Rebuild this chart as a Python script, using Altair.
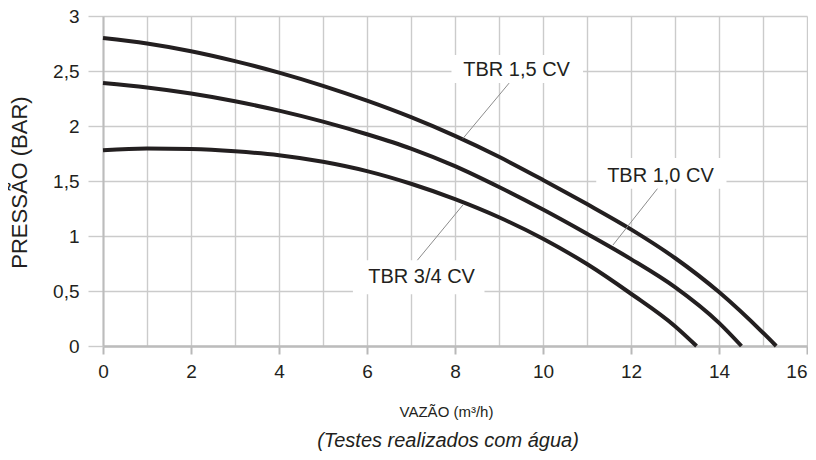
import altair as alt
import pandas as pd

FONT = "Liberation Sans"
INK = "#231f20"

# ---- curve data (vazão m³/h, pressão bar) ----
series_names = ["TBR 1,5 CV", "TBR 1,0 CV", "TBR 3/4 CV"]
x_15 = [0, 1, 2, 3, 4, 5, 6, 7, 8, 9, 10, 11, 12, 13, 14, 15, 15.3]
y_15 = [2.80, 2.75, 2.68, 2.59, 2.485, 2.365, 2.23, 2.08, 1.91, 1.72, 1.51, 1.29, 1.06, 0.80, 0.49, 0.12, 0.0]
x_10 = [0, 1, 2, 3, 4, 5, 6, 7, 8, 9, 10, 11, 12, 13, 14, 14.51]
y_10 = [2.39, 2.35, 2.295, 2.225, 2.14, 2.04, 1.925, 1.795, 1.635, 1.445, 1.24, 1.02, 0.79, 0.535, 0.21, 0.0]
x_34 = [0, 1, 2, 3, 4, 5, 6, 7, 8, 9, 10, 11, 12, 13, 13.49]
y_34 = [1.78, 1.795, 1.79, 1.77, 1.735, 1.675, 1.59, 1.475, 1.335, 1.17, 0.975, 0.745, 0.475, 0.18, 0.0]

# ---- annotation data ----
label_x = [9.40, 12.67, 7.24]
label_y = [2.51, 1.55, 0.63]
box_x1 = [7.92, 11.21, 5.68]
box_x2 = [10.91, 14.17, 8.67]
box_y1 = [2.39, 1.43, 0.47]
box_y2 = [2.645, 1.71, 0.78]
lead_x1 = [9.23, 12.60, 7.145]
lead_y1 = [2.39, 1.43, 0.78]
lead_x2 = [8.18, 11.59, 8.18]
lead_y2 = [1.886, 0.918, 1.282]

x_grid_values = list(range(0, 17))
y_grid_values = [0, 0.5, 1, 1.5, 2, 2.5, 3]

rows = []
for name, xs, ys in zip(series_names, [x_15, x_10, x_34], [y_15, y_10, y_34]):
    for i, (a, b) in enumerate(zip(xs, ys)):
        rows.append({"serie": name, "vazao": a, "pressao": b, "ordem": i})
curves = pd.DataFrame(rows)

ann = pd.DataFrame({
    "texto": series_names,
    "lx": label_x, "ly": label_y,
    "bx1": box_x1, "bx2": box_x2, "by1": box_y1, "by2": box_y2,
    "rx1": lead_x1, "ry1": lead_y1, "rx2": lead_x2, "ry2": lead_y2,
})

xscale = alt.Scale(domain=[0, 16], nice=False, zero=False)
yscale = alt.Scale(domain=[0, 3], nice=False, zero=False)

xaxis = alt.Axis(
    values=x_grid_values, grid=True, gridColor="#cbcbcb", gridWidth=1.4,
    domainColor="#bcbcbc", domainWidth=2.5,
    tickColor="#b8b8b8", tickWidth=2, tickSize=8,
    tickOpacity={"condition": {"test": "datum.value % 2 === 0", "value": 1}, "value": 0},
    labelExpr="datum.value % 2 === 0 ? datum.label : ''",
    labelAlign={"condition": {"test": "datum.value === 16", "value": "right"}, "value": "center"},
    labelFlush=False, labelOverlap=False,
    labelFont=FONT, labelFontSize=19, labelColor=INK, labelPadding=8,
    title="VAZÃO (m³/h)", titleFont=FONT, titleFontSize=15, titleFontWeight="normal",
    titleColor=INK, titleX=343, titleY=70, titleBaseline="alphabetic", titleAlign="center",
)
yaxis = alt.Axis(
    values=y_grid_values, grid=True, gridColor="#cbcbcb", gridWidth=1.4,
    domainColor="#bcbcbc", domainWidth=2,
    tickColor="#cbcbcb", tickWidth=1.4, tickSize=15,
    labelExpr="replace(format(datum.value, '~g'), '.', ',')",
    labelFont=FONT, labelFontSize=19, labelColor=INK, labelPadding=9,
    title="PRESSÃO  (BAR)", titleFont=FONT, titleFontSize=22, titleFontWeight="normal",
    titleColor=INK, titleX=-77, titleY=166, titleAngle=270,
    titleBaseline="alphabetic", titleAlign="center",
)

lines = alt.Chart(curves).mark_line(
    color=INK, strokeWidth=4, interpolate="monotone", strokeCap="butt"
).encode(
    x=alt.X("vazao:Q", scale=xscale, axis=xaxis),
    y=alt.Y("pressao:Q", scale=yscale, axis=yaxis),
    detail="serie:N",
    order="ordem:Q",
)

boxes = alt.Chart(ann).mark_rect(color="white").encode(
    x=alt.X("bx1:Q", scale=xscale, axis=xaxis), x2="bx2:Q",
    y=alt.Y("by1:Q", scale=yscale, axis=yaxis), y2="by2:Q",
)

leaders = alt.Chart(ann).mark_rule(color="#8c8c8c", strokeWidth=1).encode(
    x=alt.X("rx1:Q", scale=xscale, axis=xaxis), x2="rx2:Q",
    y=alt.Y("ry1:Q", scale=yscale, axis=yaxis), y2="ry2:Q",
)

labels = alt.Chart(ann).mark_text(
    font=FONT, fontSize=20, color=INK, align="center", baseline="middle"
).encode(
    x=alt.X("lx:Q", scale=xscale, axis=xaxis),
    y=alt.Y("ly:Q", scale=yscale, axis=yaxis),
    text="texto:N",
)

chart = alt.layer(lines, boxes, leaders, labels).properties(
    width=704, height=330,
    autosize=alt.AutoSizeParams(type="none"),
    padding={"left": 95, "top": 8, "right": 1, "bottom": 106},
    title=alt.TitleParams(
        text="(Testes realizados com água)", orient="bottom", anchor="middle",
        font=FONT, fontSize=20, fontStyle="italic", fontWeight="normal",
        color=INK, offset=12, dx=-7,
    ),
).configure_view(stroke=None)

chart.save("out.html", embed_options={"renderer": "svg", "actions": False})
